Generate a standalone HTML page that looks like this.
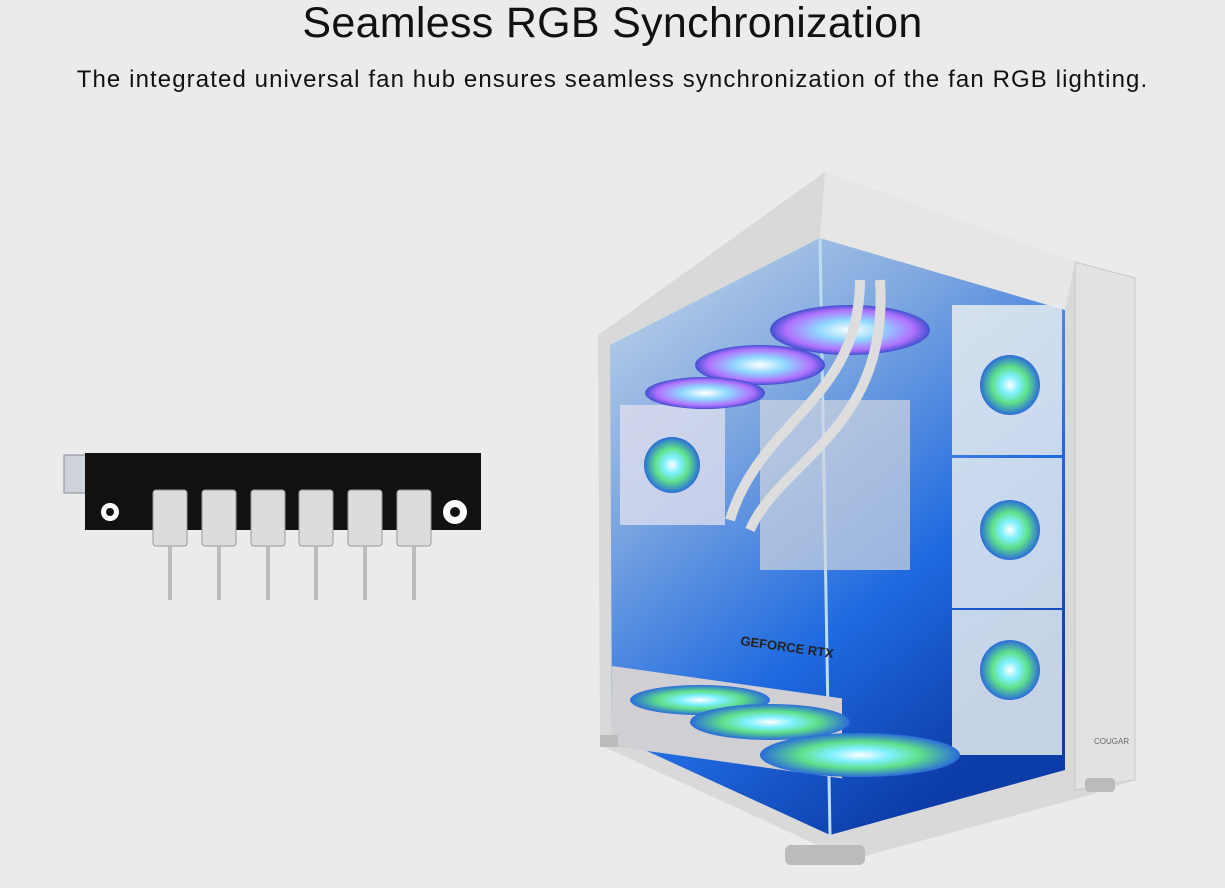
<!DOCTYPE html>
<html><head><meta charset="utf-8"><style>
body{margin:0;width:1225px;height:888px;background:#ebebeb;overflow:hidden;font-family:"Liberation Sans",sans-serif;position:relative}
h1{position:absolute;top:-1px;left:0;width:1225px;text-align:center;margin:0;font-weight:400;font-size:43px;line-height:48px;color:#111;letter-spacing:0.3px}
p{position:absolute;top:64px;left:0;width:1225px;text-align:center;margin:0;font-size:24px;line-height:32px;color:#111;letter-spacing:1.1px}
svg{position:absolute;left:0;top:0}
</style></head><body>
<h1>Seamless RGB Synchronization</h1>
<p>The integrated universal fan hub ensures seamless synchronization of the fan RGB lighting.</p>
<svg width="1225" height="888" viewBox="0 0 1225 888">
<defs>
<radialGradient id="fan" cx="50%" cy="50%" r="50%"><stop offset="0" stop-color="#fff"/><stop offset=".3" stop-color="#7ff0ff"/><stop offset=".6" stop-color="#5fe08a"/><stop offset="1" stop-color="#2a6bd8"/></radialGradient>
<radialGradient id="fanh" cx="50%" cy="50%" r="50%"><stop offset="0" stop-color="#fff"/><stop offset=".4" stop-color="#8fd8ff"/><stop offset=".8" stop-color="#b070ff"/><stop offset="1" stop-color="#4050d0"/></radialGradient>
<linearGradient id="inside" x1="0" y1="0" x2="0.6" y2="1"><stop offset="0" stop-color="#c8d8ea"/><stop offset=".35" stop-color="#7fa8e0"/><stop offset=".7" stop-color="#1f6ae0"/><stop offset="1" stop-color="#0c3ca8"/></linearGradient>
<linearGradient id="wire" x1="0" x2="1"><stop offset="0" stop-color="#ebebeb"/><stop offset="1" stop-color="#999"/></linearGradient>
</defs>
<g stroke="url(#wire)" stroke-width="3"><line x1="10" y1="462" x2="70" y2="462"/><line x1="10" y1="470" x2="70" y2="470"/><line x1="10" y1="478" x2="70" y2="478"/><line x1="10" y1="486" x2="70" y2="486"/></g>
<rect x="64" y="455" width="34" height="38" fill="#cdd3d8" stroke="#889" />
<rect x="85" y="453" width="396" height="77" fill="#111"/>
<circle cx="110" cy="512" r="9" fill="#fff"/><circle cx="110" cy="512" r="4" fill="#111"/>
<circle cx="455" cy="512" r="12" fill="#fff"/><circle cx="455" cy="512" r="5" fill="#111"/>
<g fill="#dcdcdc" stroke="#999">
<rect x="153" y="490" width="34" height="56" rx="3"/><rect x="202" y="490" width="34" height="56" rx="3"/><rect x="251" y="490" width="34" height="56" rx="3"/><rect x="299" y="490" width="34" height="56" rx="3"/><rect x="348" y="490" width="34" height="56" rx="3"/><rect x="397" y="490" width="34" height="56" rx="3"/>
</g>
<g stroke="#bbb" stroke-width="4"><line x1="170" y1="546" x2="170" y2="600"/><line x1="219" y1="546" x2="219" y2="600"/><line x1="268" y1="546" x2="268" y2="600"/><line x1="316" y1="546" x2="316" y2="600"/><line x1="365" y1="546" x2="365" y2="600"/><line x1="414" y1="546" x2="414" y2="600"/></g>
<polygon points="598,335 825,172 1075,262 1135,278 1135,780 1090,795 850,860 600,745" fill="#d9d9d9"/>
<polygon points="610,345 820,238 1065,310 1065,770 830,835 612,735" fill="url(#inside)"/>
<polygon points="1075,262 1135,278 1135,780 1075,790" fill="#e2e2e2" stroke="#c8c8c8"/>
<polygon points="825,172 1075,262 1065,310 820,238" fill="#e6e6e6"/>
<line x1="820" y1="238" x2="830" y2="835" stroke="#bde" stroke-width="3"/>
<rect x="760" y="400" width="150" height="170" fill="#d0d6e0" opacity=".7"/>
<rect x="612" y="580" width="230" height="80" fill="#cfcfd4" transform="skewY(8)"/>
<text x="740" y="645" font-size="13" font-weight="bold" fill="#222" transform="rotate(8 740 645)">GEFORCE RTX</text>
<g>
<rect x="620" y="405" width="105" height="120" fill="#dde" opacity=".8"/><circle cx="672" cy="465" r="28" fill="url(#fan)"/>
<rect x="952" y="305" width="110" height="150" fill="#e6ecf0" opacity=".85"/><circle cx="1010" cy="385" r="30" fill="url(#fan)"/>
<rect x="952" y="458" width="110" height="150" fill="#e6ecf0" opacity=".85"/><circle cx="1010" cy="530" r="30" fill="url(#fan)"/>
<rect x="952" y="610" width="110" height="145" fill="#e6ecf0" opacity=".85"/><circle cx="1010" cy="670" r="30" fill="url(#fan)"/>
<ellipse cx="850" cy="330" rx="80" ry="25" fill="url(#fanh)"/>
<ellipse cx="760" cy="365" rx="65" ry="20" fill="url(#fanh)"/>
<ellipse cx="705" cy="393" rx="60" ry="16" fill="url(#fanh)"/>
<ellipse cx="700" cy="700" rx="70" ry="15" fill="url(#fan)"/>
<ellipse cx="770" cy="722" rx="80" ry="18" fill="url(#fan)"/>
<ellipse cx="860" cy="755" rx="100" ry="22" fill="url(#fan)"/>
</g>
<path d="M860 280 C860 400 760 420 730 520 M880 280 C890 430 780 460 750 530" stroke="#ddd" stroke-width="10" fill="none"/>
<rect x="600" y="735" width="18" height="12" fill="#bbb"/><rect x="785" y="845" width="80" height="20" rx="6" fill="#bbb"/><rect x="1085" y="778" width="30" height="14" rx="4" fill="#bbb"/>
<text x="1094" y="744" font-size="8" fill="#666">COUGAR</text>
</svg>
</body></html>
